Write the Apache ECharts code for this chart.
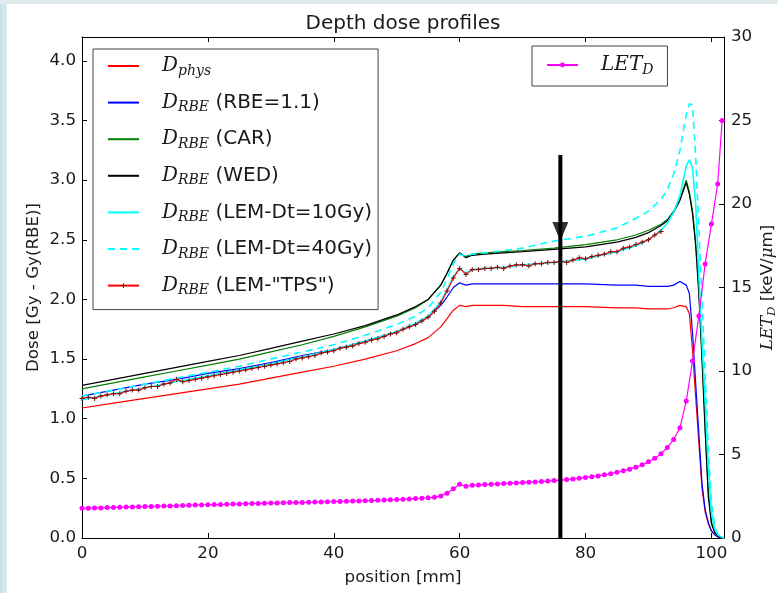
<!DOCTYPE html>
<html>
<head>
<meta charset="utf-8">
<title>Depth dose profiles</title>
<script src="https://cdn.jsdelivr.net/npm/echarts@6/dist/echarts.min.js"></script>
<style>
  html, body { margin: 0; padding: 0; background: #fff; }
  #chart { position: absolute; left: 0; top: 0; width: 778px; height: 593px; }
  .edge-left { position: absolute; left: 0; top: 0; width: 7px; height: 593px; background: linear-gradient(to right, #c9e0e8, #dcebef); }
  .edge-top { position: absolute; left: 0; top: 0; width: 778px; height: 4px; background: #e1eaed; }
</style>
</head>
<body>
<div id="chart"></div>
<div class="edge-left"></div>
<div class="edge-top"></div>
<script>
// positions [mm] where the dose curves were read
const doseX = [0, 5, 10, 15, 20, 25, 30, 35, 40, 45, 50,
  53, 55, 57, 58, 59, 60, 61, 62, 64, 67, 70, 75, 80, 85, 88, 90, 92, 93, 94, 95, 96,
  96.5, 97, 97.5, 98, 98.5, 99, 99.5, 100, 100.5, 101, 101.5, 102]

const dosePhys = [1.09, 1.13, 1.17, 1.21, 1.25, 1.29, 1.34, 1.39, 1.44, 1.50, 1.57,
  1.63, 1.68, 1.77, 1.84, 1.91, 1.95, 1.94, 1.95, 1.95, 1.95, 1.94, 1.94, 1.94, 1.93, 1.93, 1.92, 1.92, 1.92, 1.93, 1.95, 1.94,
  1.88, 1.57, 1.18, 0.80, 0.42, 0.22, 0.12, 0.06, 0.03, 0.01, 0, 0]

const doseRbe = [1.19, 1.24, 1.29, 1.33, 1.38, 1.42, 1.47, 1.53, 1.58, 1.65, 1.73,
  1.79, 1.85, 1.95, 2.02, 2.10, 2.14, 2.12, 2.13, 2.13, 2.13, 2.13, 2.13, 2.13, 2.12, 2.12, 2.11, 2.11, 2.11, 2.12, 2.15, 2.12,
  2.05, 1.72, 1.30, 0.88, 0.46, 0.24, 0.13, 0.06, 0.03, 0.01, 0, 0]

const doseCar = [1.25, 1.30, 1.35, 1.40, 1.45, 1.50, 1.56, 1.62, 1.69, 1.77, 1.86,
  1.93, 2.00, 2.12, 2.22, 2.33, 2.39, 2.36, 2.38, 2.39, 2.40, 2.41, 2.43, 2.46, 2.50, 2.54, 2.58, 2.63, 2.67, 2.74, 2.84, 3.00,
  2.90, 2.74, 2.48, 2.08, 1.55, 0.95, 0.40, 0.14, 0.05, 0.02, 0, 0]

const doseWed = [1.28, 1.33, 1.38, 1.43, 1.48, 1.53, 1.59, 1.65, 1.71, 1.78, 1.87,
  1.94, 2.00, 2.12, 2.22, 2.33, 2.39, 2.35, 2.37, 2.38, 2.39, 2.40, 2.42, 2.44, 2.48, 2.52, 2.56, 2.62, 2.66, 2.73, 2.83, 2.98,
  2.88, 2.72, 2.45, 2.05, 1.50, 0.90, 0.35, 0.12, 0.05, 0.02, 0, 0]

const doseLem10 = [1.16, 1.21, 1.26, 1.31, 1.36, 1.41, 1.46, 1.52, 1.58, 1.65, 1.73,
  1.80, 1.86, 1.98, 2.08, 2.19, 2.26, 2.22, 2.25, 2.26, 2.27, 2.29, 2.31, 2.34, 2.40, 2.45, 2.50, 2.58, 2.64, 2.73, 2.87, 3.12,
  3.17, 3.10, 2.80, 2.20, 1.65, 1.15, 0.60, 0.22, 0.08, 0.03, 0.01, 0]

const doseLem40 = [1.19, 1.24, 1.29, 1.34, 1.39, 1.44, 1.50, 1.56, 1.62, 1.70, 1.79,
  1.86, 1.93, 2.06, 2.17, 2.30, 2.38, 2.36, 2.38, 2.39, 2.41, 2.43, 2.49, 2.53, 2.60, 2.68, 2.74, 2.84, 2.92, 3.05, 3.25, 3.55,
  3.64, 3.63, 3.20, 2.60, 2.00, 1.40, 0.75, 0.30, 0.10, 0.03, 0, 0]

// LEM "TPS" curve, one value per mm from 0 to 92
const doseTps = [1.17, 1.18, 1.17, 1.19, 1.20, 1.21, 1.21, 1.23, 1.24, 1.24,
  1.26, 1.27, 1.27, 1.29, 1.30, 1.33, 1.31, 1.32, 1.33, 1.34,
  1.35, 1.36, 1.37, 1.38, 1.39, 1.40, 1.41, 1.42, 1.43, 1.44,
  1.45, 1.46, 1.47, 1.48, 1.50, 1.51, 1.52, 1.53, 1.55, 1.56,
  1.57, 1.59, 1.60, 1.61, 1.63, 1.64, 1.66, 1.67, 1.69, 1.71,
  1.72, 1.75, 1.77, 1.79, 1.82, 1.85, 1.90, 1.97, 2.07, 2.18,
  2.26, 2.21, 2.25, 2.25, 2.26, 2.26, 2.27, 2.26, 2.28, 2.29,
  2.29, 2.28, 2.30, 2.30, 2.31, 2.31, 2.32, 2.31, 2.33, 2.35,
  2.34, 2.36, 2.37, 2.38, 2.40, 2.40, 2.43, 2.44, 2.46, 2.48,
  2.50, 2.54, 2.57]
const tpsX = doseTps.map((v, i) => i)

// LET_D [keV/um], one value per mm from 0 to 101, last point at 101.7
const letValues = [1.78, 1.78, 1.80, 1.80, 1.82, 1.83, 1.84, 1.85, 1.86, 1.87,
  1.88, 1.89, 1.90, 1.91, 1.92, 1.93, 1.94, 1.96, 1.97, 1.98,
  1.99, 2.00, 2.00, 2.02, 2.03, 2.04, 2.05, 2.06, 2.07, 2.08,
  2.09, 2.10, 2.11, 2.12, 2.13, 2.12, 2.14, 2.15, 2.16, 2.17,
  2.18, 2.19, 2.20, 2.21, 2.22, 2.23, 2.24, 2.26, 2.27, 2.29,
  2.30, 2.32, 2.34, 2.36, 2.38, 2.41, 2.44, 2.52, 2.68, 2.95,
  3.22, 3.10, 3.16, 3.18, 3.20, 3.22, 3.24, 3.26, 3.28, 3.30,
  3.32, 3.34, 3.36, 3.38, 3.41, 3.44, 3.47, 3.50, 3.54, 3.58,
  3.62, 3.67, 3.72, 3.78, 3.85, 3.93, 4.02, 4.12, 4.24, 4.38,
  4.56, 4.78, 5.05, 5.42, 5.90, 6.60, 8.20, 10.6, 13.3, 16.4,
  18.8, 21.2, 25.0]
const letX = letValues.map((v, i) => (i < 102 ? i : 101.7))

// the marker arrow at 76 mm
const arrowX = [76, 76]
const arrowY = [3.21, 0]
const arrowHead = [[76, 2.57]]

const xTicks = { min: 0, max: 102, interval: 20 }
const doseTicks = { min: 0, max: 4.2, interval: 0.5 }
const letTicks = { min: 0, max: 30, interval: 5 }

const SANS = 'DejaVu Sans'
const SERIF = 'DejaVu Serif'
const INK = '#1a1a1a'

const pairs = (xs, ys) => ys.map((y, i) => [xs[i], y])

const mathRich = {
  gap: { width: 18, lineHeight: 24 },
  d: { fontFamily: SERIF, fontStyle: 'italic', fontSize: 20, color: INK, lineHeight: 24 },
  s: { fontFamily: SERIF, fontStyle: 'italic', fontSize: 14, color: INK, lineHeight: 12, verticalAlign: 'bottom' },
  t: { fontFamily: SANS, fontSize: 20, color: INK, lineHeight: 24 }
}

const legendText = {
  phys: '{d|D}{s|phys}',
  rbe: '{d|D}{s|RBE}{t| (RBE=1.1)}',
  car: '{d|D}{s|RBE}{t| (CAR)}',
  wed: '{d|D}{s|RBE}{t| (WED)}',
  lem10: '{d|D}{s|RBE}{t| (LEM-Dt=10Gy)}',
  lem40: '{d|D}{s|RBE}{t| (LEM-Dt=40Gy)}',
  tps: '{d|D}{s|RBE}{t| (LEM-"TPS")}',
  let: '{d|LET}{s|D}'
}

function doseLine (name, color, values, extra) {
  return Object.assign({
    name: name,
    type: 'line',
    data: pairs(doseX, values),
    symbol: 'none',
    lineStyle: { color: color, width: 1.2 },
    itemStyle: { color: color },
    silent: true,
    z: 3
  }, extra || {})
}

const chart = echarts.init(document.getElementById('chart'))

const option = {
  animation: false,
  backgroundColor: '#fff',
  title: {
    text: 'Depth dose profiles',
    left: 403,
    top: 14,
    padding: 0,
    textAlign: 'center',
    textStyle: { fontFamily: SANS, fontSize: 20, fontWeight: 'normal', color: INK }
  },
  grid: { left: 82, right: 54, top: 37, bottom: 55, outerBoundsMode: 'none' },
  legend: [{
    orient: 'vertical',
    left: 93,
    top: 49,
    padding: [7, 6, 12, 14],
    itemGap: 14.6,
    itemWidth: 31,
    itemHeight: 6,
    backgroundColor: '#fff',
    borderColor: '#444',
    borderWidth: 1,
    borderRadius: 0,
    selectedMode: false,
    data: ['phys', 'rbe', 'car', 'wed', 'lem10', 'lem40', 'tps'].map(n => ({
      name: n,
      itemStyle: n === 'tps' ? {} : { opacity: 0 }
    })),
    formatter: name => '{gap|}' + legendText[name],
    textStyle: { rich: mathRich }
  }, {
    orient: 'vertical',
    left: 532,
    top: 46,
    padding: [9, 14, 9, 14],
    itemWidth: 31,
    itemHeight: 6,
    backgroundColor: '#fff',
    borderColor: '#444',
    borderWidth: 1,
    borderRadius: 0,
    selectedMode: false,
    data: ['let'],
    formatter: name => '{gap|}' + legendText[name],
    textStyle: { rich: mathRich }
  }],
  xAxis: [{
    type: 'value',
    position: 'bottom',
    min: xTicks.min,
    max: xTicks.max,
    interval: xTicks.interval,
    name: 'position [mm]',
    nameLocation: 'middle',
    nameGap: 31,
    nameMoveOverlap: false,
    nameTextStyle: { fontFamily: SANS, fontSize: 16.7, color: INK },
    axisLine: { onZero: false, lineStyle: { color: '#000', width: 1 } },
    axisTick: { inside: true, length: 5, lineStyle: { color: '#000' } },
    axisLabel: { showMaxLabel: false, margin: 7, fontFamily: SANS, fontSize: 16.7, color: INK },
    splitLine: { show: false }
  }, {
    type: 'value',
    position: 'top',
    min: xTicks.min,
    max: xTicks.max,
    interval: xTicks.interval,
    axisLine: { onZero: false, lineStyle: { color: '#000', width: 1 } },
    axisTick: { inside: true, length: 5, lineStyle: { color: '#000' } },
    axisLabel: { show: false },
    splitLine: { show: false }
  }],
  yAxis: [{
    type: 'value',
    position: 'left',
    min: doseTicks.min,
    max: doseTicks.max,
    interval: doseTicks.interval,
    name: 'Dose [Gy - Gy(RBE)]',
    nameLocation: 'middle',
    nameRotate: 90,
    nameGap: 40,
    nameMoveOverlap: false,
    nameTextStyle: { fontFamily: SANS, fontSize: 16.7, color: INK },
    axisLine: { show: true, onZero: false, lineStyle: { color: '#000', width: 1 } },
    axisTick: { show: true, inside: true, length: 5, lineStyle: { color: '#000' } },
    axisLabel: {
      showMaxLabel: false,
      margin: 6,
      fontFamily: SANS,
      fontSize: 16.7,
      color: INK,
      formatter: v => v.toFixed(1)
    },
    splitLine: { show: false }
  }, {
    type: 'value',
    position: 'right',
    min: letTicks.min,
    max: letTicks.max,
    interval: letTicks.interval,
    name: '{i|LET}{s|D}{t| [keV/}{i|\u03bc}{t|m]}',
    nameLocation: 'middle',
    nameRotate: 90,
    nameGap: 34,
    nameMoveOverlap: false,
    nameTextStyle: {
      rich: {
        i: { fontFamily: SERIF, fontStyle: 'italic', fontSize: 16.7, color: INK, lineHeight: 20 },
        s: { fontFamily: SERIF, fontStyle: 'italic', fontSize: 11.7, color: INK, lineHeight: 10, verticalAlign: 'bottom' },
        t: { fontFamily: SANS, fontSize: 16.7, color: INK, lineHeight: 20 }
      }
    },
    axisLine: { show: true, onZero: false, lineStyle: { color: '#000', width: 1 } },
    axisTick: { show: true, inside: true, length: 5, lineStyle: { color: '#000' } },
    axisLabel: { margin: 7, fontFamily: SANS, fontSize: 16.7, color: INK },
    splitLine: { show: false }
  }],
  series: [
    doseLine('phys', '#ff0000', dosePhys),
    doseLine('rbe', '#0000ff', doseRbe),
    doseLine('car', '#008000', doseCar),
    doseLine('wed', '#000000', doseWed),
    doseLine('lem10', '#00ffff', doseLem10, { lineStyle: { color: '#00ffff', width: 1.6 } }),
    doseLine('lem40', '#00ffff', doseLem40, { lineStyle: { color: '#00ffff', width: 1.6, type: [7, 5] } }),
    {
      name: 'tps',
      type: 'line',
      data: pairs(tpsX, doseTps),
      symbol: 'path://M2,0H3V5H2Z M0,2H5V3H0Z',
      symbolSize: 5,
      showSymbol: true,
      lineStyle: { color: '#ff0000', width: 1.2 },
      itemStyle: { color: '#6b1515' },
      silent: true,
      z: 4
    },
    {
      name: 'let',
      type: 'line',
      yAxisIndex: 1,
      data: pairs(letX, letValues),
      symbol: 'circle',
      symbolSize: 5,
      showSymbol: true,
      lineStyle: { color: '#ff00ff', width: 1.2 },
      itemStyle: { color: '#ff00ff' },
      silent: true,
      z: 5
    },
    {
      type: 'line',
      data: pairs(arrowX, arrowY),
      symbol: 'none',
      lineStyle: { color: '#000', width: 4 },
      silent: true,
      z: 10
    },
    {
      type: 'scatter',
      data: arrowHead,
      symbol: 'triangle',
      symbolRotate: 180,
      symbolSize: [16, 19],
      itemStyle: { color: '#000' },
      silent: true,
      z: 11
    }
  ]
}

chart.setOption(option)
</script>
</body>
</html>
